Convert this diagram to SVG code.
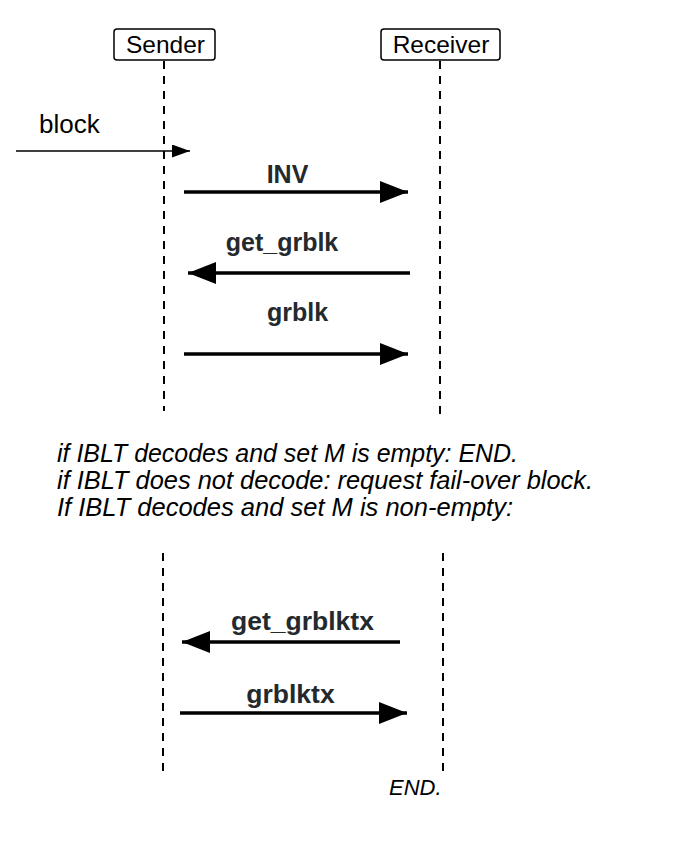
<svg xmlns="http://www.w3.org/2000/svg" width="686" height="859" viewBox="0 0 686 859">
<defs>
<style>
.actor{fill:#fff;stroke:#000;stroke-width:1.5}
.aname{font-family:"Liberation Sans",Arial,sans-serif;font-size:24.5px;fill:#000}
.life{stroke:#000;stroke-width:2;stroke-dasharray:8 7;fill:none}
.msg{stroke:#000;stroke-width:3.5;fill:none}
.thin{stroke:#000;stroke-width:1.6;fill:none}
.lbl{font-family:"Liberation Sans",Arial,sans-serif;font-size:25px;font-weight:bold;fill:#24292e}
.lbl2{font-size:26.5px}
.note{font-family:"Liberation Sans",Arial,sans-serif;font-size:25px;font-style:italic;fill:#000}
.plain{font-family:"Liberation Sans",Arial,sans-serif;font-size:26px;fill:#000}
</style>
<marker id="big" markerUnits="userSpaceOnUse" markerWidth="30" markerHeight="24" refX="28" refY="11" orient="auto"><path d="M0,0 L28,11 L0,22 Z" fill="#000"/></marker>
<marker id="small" markerUnits="userSpaceOnUse" markerWidth="20" markerHeight="14" refX="18" refY="6.5" orient="auto"><path d="M0,0 L18,6.5 L0,13 Z" fill="#000"/></marker>
</defs>
<rect width="686" height="859" fill="#fff"/>
<g id="sender">
<rect class="actor" x="114" y="29" width="101" height="31" rx="3"/>
<text class="aname" x="165.5" y="53" text-anchor="middle">Sender</text>
</g>
<g id="receiver">
<rect class="actor" x="381" y="29" width="119" height="31" rx="3"/>
<text class="aname" x="441" y="53" text-anchor="middle">Receiver</text>
</g>
<g id="lifelines">
<line class="life" x1="164" y1="61" x2="164" y2="411"/>
<line class="life" x1="440" y1="61" x2="440" y2="414"/>
<line class="life" x1="163" y1="553" x2="163" y2="774"/>
<line class="life" x1="443" y1="553" x2="443" y2="774"/>
</g>
<g id="connectors">
<line class="thin" x1="16" y1="151" x2="190" y2="151" marker-end="url(#small)"/>
<line class="msg" x1="184" y1="192" x2="408" y2="192" marker-end="url(#big)"/>
<line class="msg" x1="410" y1="273" x2="188" y2="273" marker-end="url(#big)"/>
<line class="msg" x1="184" y1="354" x2="408" y2="354" marker-end="url(#big)"/>
<line class="msg" x1="400" y1="642" x2="182" y2="642" marker-end="url(#big)"/>
<line class="msg" x1="180" y1="713" x2="407" y2="713" marker-end="url(#big)"/>
</g>
<g id="labels">
<text class="plain" x="39" y="133">block</text>
<text class="lbl" x="287.5" y="183" text-anchor="middle">INV</text>
<text class="lbl" x="282" y="251" text-anchor="middle">get_grblk</text>
<text class="lbl" x="297.5" y="321" text-anchor="middle">grblk</text>
<text class="lbl lbl2" x="302.5" y="630" text-anchor="middle">get_grblktx</text>
<text class="lbl lbl2" x="290.5" y="703" text-anchor="middle">grblktx</text>
</g>
<g id="notes">
<text class="note" x="57" y="462" textLength="461" lengthAdjust="spacingAndGlyphs">if IBLT decodes and set M is empty: END.</text>
<text class="note" x="57" y="489" textLength="536" lengthAdjust="spacingAndGlyphs">if IBLT does not decode: request fail-over block.</text>
<text class="note" x="57" y="516" textLength="456" lengthAdjust="spacingAndGlyphs">If IBLT decodes and set M is non-empty:</text>
<text class="note" x="389" y="795" style="font-size:22px">END.</text>
</g>
</svg>
